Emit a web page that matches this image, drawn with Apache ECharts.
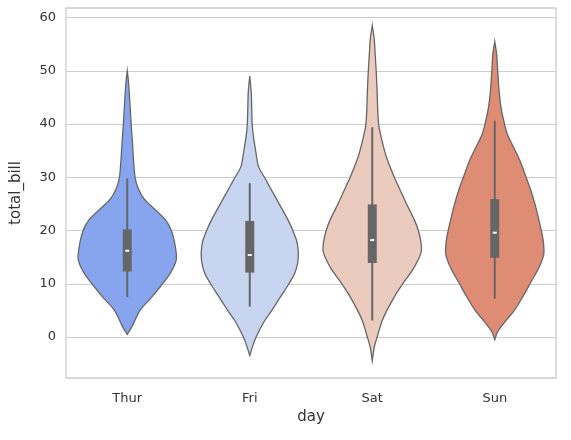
<!DOCTYPE html>
<html><head><meta charset="utf-8">
<script src="https://cdn.jsdelivr.net/npm/echarts@6/dist/echarts.min.js"></script>
<style>html,body{margin:0;padding:0;background:#fff}#c{width:571px;height:440px}</style>
</head><body><div id="c"></div>
<script>
var categories = ['Thur','Fri','Sat','Sun'];
var colors = ['#87a5ef','#c8d5f0','#ebcbbd','#df8c75'];
var yTicks = [0,10,20,30,40,50,60];
// violin outlines: [total_bill, relative half-width 0..1]
var thurShape = [[0.5,0],[2,0.1],[5,0.26],[7.5,0.5],[10,0.72],[12,0.88],[14.5,1],[17,0.98],[20,0.9],[22,0.78],[24,0.56],[26,0.34],[28,0.22],[30,0.16],[33,0.13],[36,0.11],[40,0.08],[43,0.06],[46,0.04],[48,0.025],[50,0]];
var friShape = [[-3.5,0],[-2,0.05],[0,0.13],[3,0.3],[5,0.45],[8,0.66],[10,0.8],[12,0.92],[14,0.98],[16,0.99],[18,0.96],[20,0.88],[22,0.78],[25,0.6],[28,0.42],[30,0.3],[32,0.18],[35,0.12],[38,0.07],[40,0.05],[43,0.04],[46,0.03],[49,0]];
var satShape = [[-4.5,0],[-2,0.04],[0,0.1],[3,0.2],[5,0.3],[8,0.48],[10,0.62],[13,0.85],[16,1],[18,0.99],[20,0.94],[22,0.86],[25,0.7],[28,0.55],[30,0.45],[33,0.32],[35,0.25],[38,0.17],[40,0.13],[43,0.11],[46,0.1],[50,0.08],[53,0.06],[56,0.04],[58.5,0]];
var sunShape = [[-0.5,0],[1,0.06],[3,0.22],[5,0.4],[8,0.6],[10,0.72],[13,0.9],[15.5,1],[18,0.99],[20,0.95],[22,0.9],[25,0.82],[28,0.72],[30,0.64],[33,0.52],[35,0.42],[38,0.26],[40,0.2],[43,0.13],[46,0.09],[50,0.06],[53,0.04],[55.5,0]];
var shapes = [thurShape, friShape, satShape, sunShape];
// box stats: [whisker low, q1, median, q3, whisker high]
var boxStats = [[7.5,12.3,16.2,20.2,29.8],[5.7,12.1,15.4,21.8,28.9],[3.1,13.9,18.2,24.9,39.4],[7.2,14.9,19.6,25.9,40.6]];

var chart = echarts.init(document.getElementById('c'));
function renderViolin(params, api){
  var i = api.value(0);
  var shape = shapes[i], st = boxStats[i];
  var band = api.size([1,0])[0];
  var hw = 0.4*band;
  var left = [], right = [];
  shape.forEach(function(p){
    var c = api.coord([i, p[0]]);
    left.push([c[0]-p[1]*hw, c[1]]);
    right.unshift([c[0]+p[1]*hw, c[1]]);
  });
  var pts = left.concat(right);
  var cx = api.coord([i,0])[0];
  var yy = function(v){return api.coord([i,v])[1];};
  return {type:'group', children:[
    {type:'polygon', shape:{points:pts, smooth:0.3}, style:{fill:colors[i], stroke:'#666666', lineWidth:1.3}},
    {type:'line', shape:{x1:cx,y1:yy(st[0]),x2:cx,y2:yy(st[4])}, style:{stroke:'#666666', lineWidth:2}},
    {type:'rect', shape:{x:cx-4.5,y:yy(st[3]),width:9,height:yy(st[1])-yy(st[3])}, style:{fill:'#666666'}},
    {type:'rect', shape:{x:cx-2,y:yy(st[2])-1,width:4,height:2}, style:{fill:'#ffffff'}}
  ]};
}
chart.setOption({
  animation:false,
  grid:{left:66,right:15,top:8,bottom:62,show:true,borderColor:'#cccccc',borderWidth:1.3},
  xAxis:{type:'category',data:categories,name:'day',nameLocation:'middle',nameGap:32,
    nameTextStyle:{fontFamily:'DejaVu Sans',fontSize:15,color:'#333'},
    axisLine:{show:false},axisTick:{show:false},
    axisLabel:{fontFamily:'DejaVu Sans',fontSize:13,color:'#333',margin:14},splitLine:{show:false}},
  yAxis:{type:'value',min:-7.7,max:61.8,name:'total_bill',nameLocation:'middle',nameGap:42,
    nameTextStyle:{fontFamily:'DejaVu Sans',fontSize:15,color:'#333'},
    axisLine:{show:false},axisTick:{show:false,customValues:yTicks},
    axisLabel:{fontFamily:'DejaVu Sans',fontSize:13,color:'#333',customValues:yTicks,margin:10},
    splitLine:{show:true,lineStyle:{color:'#cccccc',width:1.2}}},
  series:[{type:'custom',renderItem:renderViolin,data:categories.map(function(c,i){return [i];}),encode:{x:0}}]
});
</script></body></html>
